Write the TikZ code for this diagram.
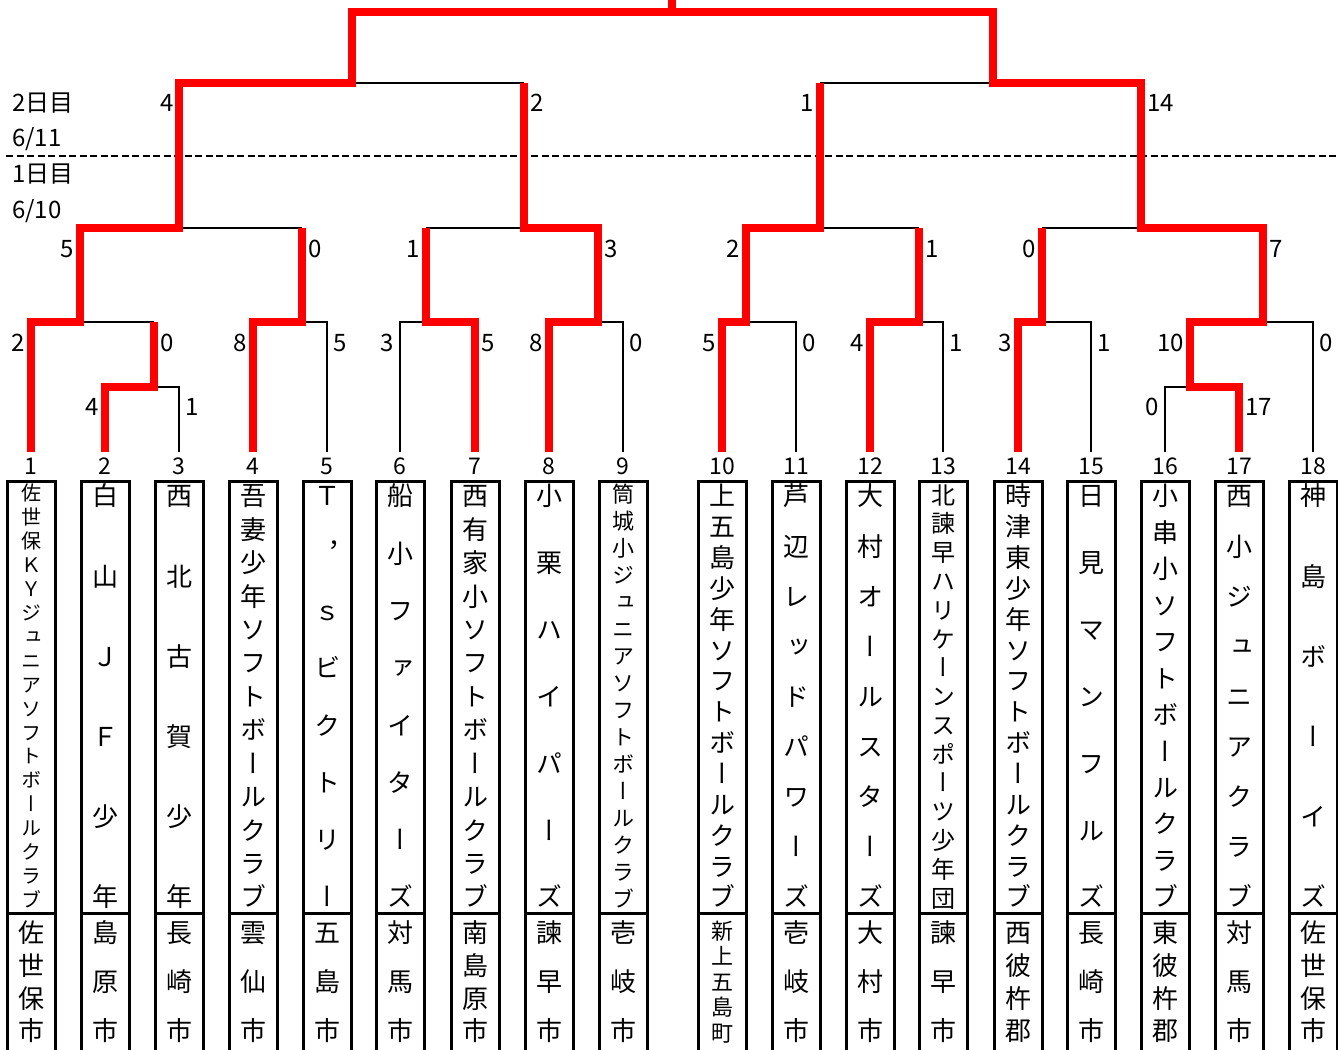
\documentclass[tikz,border=0pt]{standalone}
\usepackage{fontspec}
\setmainfont{Noto Sans CJK JP}
\newfontfamily\vfont[RawFeature=+vert]{Noto Sans CJK JP}
\definecolor{wred}{RGB}{255,0,0}
\tikzset{
  blk/.style={line width=2.8pt, draw=black, line join=miter},
  win/.style={line width=7.5pt, draw=wred, line join=miter},
  boxln/.style={line width=3pt, draw=black, line join=miter},
  sc/.style={font=\fontsize{24}{24}\selectfont, inner sep=0pt},
  scl/.style={sc, anchor=base east},
  scr/.style={sc, anchor=base west},
  numlab/.style={font=\fontsize{23}{23}\selectfont, inner sep=0pt, anchor=base},
  chr/.style={inner sep=0pt, anchor=base},
  daylab/.style={font=\fontsize{24}{24}\selectfont, inner sep=0pt, anchor=base west},
  dayline/.style={line width=2.2pt, dash pattern=on 7pt off 3.5pt}
}
\newcommand\teambox[8]{%
  \draw[boxln] (#2-24,1060) -- (#2-24,481) -- (#2+24,481) -- (#2+24,1060);
  \draw[boxln] (#2-24,913) -- (#2+24,913);
  \node[numlab] (num#1) at (#2,474.5) {#1};
  \pgfmathsetmacro\tbsp{(427-#4)/(#3-1)}
  \foreach \tch [count=\tk from 0] in {#5}{
    \node[chr,font=\fontsize{#4}{#4}\selectfont\vfont] (nm#1-\tk) at (#2,{483+#4/2+\tk*\tbsp+0.38*#4}) {\tch};
  }
  \pgfmathsetmacro\tbcs{(124-#7)/(#6-1)}
  \foreach \tch [count=\tk from 0] in {#8}{
    \node[chr,font=\fontsize{#7}{#7}\selectfont\vfont] (ct#1-\tk) at (#2,{920+#7/2+\tk*\tbcs+0.38*#7}) {\tch};
  }
}
\begin{document}
\begin{tikzpicture}[x=1pt,y=-1pt]
\useasboundingbox (0,0) rectangle (1338,1049);
% team top points
\coordinate (t1) at (31,452);   \coordinate (t2) at (105,452);  \coordinate (t3) at (179,452);
\coordinate (t4) at (253,452);  \coordinate (t5) at (327,452);  \coordinate (t6) at (400,452);
\coordinate (t7) at (475,452);  \coordinate (t8) at (549,452);  \coordinate (t9) at (623,452);
\coordinate (t10) at (722,452); \coordinate (t11) at (796,452); \coordinate (t12) at (870,452);
\coordinate (t13) at (943,452); \coordinate (t14) at (1018,452);\coordinate (t15) at (1091,452);
\coordinate (t16) at (1165,452);\coordinate (t17) at (1239,452);\coordinate (t18) at (1313,452);
\coordinate (top) at (672,0);

% day separator
\coordinate (dl) at (6,156); \coordinate (dr) at (1338,156);
\draw[dayline] (dl) -- (dr);
\node[daylab] (d2) at (12,111) {2日目};
\node[daylab] (d2d) at (12,146) {6/11};
\node[daylab] (d1) at (12,182) {1日目};
\node[daylab] (d1d) at (12,218) {6/10};

% black (losing) lines
\draw[blk] (154,387) -| (t3);
\draw[blk] (80,322) -- (154,322);
\draw[blk] (302,322) -| (t5);
\draw[blk] (179,228) -- (302,228);
\draw[blk] (t6) |- (426,322);
\draw[blk] (598,322) -| (t9);
\draw[blk] (426,228) -- (524,228);
\draw[blk] (352,83) -- (524,83);
\draw[blk] (746,322) -| (t11);
\draw[blk] (919,322) -| (t13);
\draw[blk] (820,228) -- (919,228);
\draw[blk] (1042,322) -| (t15);
\draw[blk] (t16) |- (1190,387);
\draw[blk] (1263,322) -| (t18);
\draw[blk] (1042,228) -- (1141,228);
\draw[blk] (820,83) -- (993,83);

% red (winning) lines
\draw[win] (t1) |- (80,322) |- (179,228) |- (352,83) |- (993,12) |- (1141,83) |- (1263,228) |- (1190,322) |- (1239,387) -- (t17);
\draw[win] (t2) |- (154,387) -- (154,322);
\draw[win] (t4) |- (302,322) -- (302,228);
\draw[win] (t7) |- (426,322) -- (426,228);
\draw[win] (t8) |- (598,322) |- (524,228) -- (524,83);
\draw[win] (t10) |- (746,322) |- (820,228) -- (820,83);
\draw[win] (t12) |- (919,322) -- (919,228);
\draw[win] (t14) |- (1042,322) -- (1042,228);
\draw[win] (672,12) -- (top);

% scores: round 3
\node[scl] (s31) at (174,111) {4};
\node[scr] (s32) at (530,111) {2};
\node[scl] (s33) at (814,111) {1};
\node[scr] (s34) at (1147,111) {14};
% round 2
\node[scl] (s21) at (74,257) {5};
\node[scr] (s22) at (308,257) {0};
\node[scl] (s23) at (420,257) {1};
\node[scr] (s24) at (604,257) {3};
\node[scl] (s25) at (740,257) {2};
\node[scr] (s26) at (925,257) {1};
\node[scl] (s27) at (1036,257) {0};
\node[scr] (s28) at (1269,257) {7};
% round 1
\node[scl] (s11) at (25,351) {2};
\node[scr] (s12) at (160,351) {0};
\node[scl] (s13) at (247,351) {8};
\node[scr] (s14) at (333,351) {5};
\node[scl] (s15) at (394,351) {3};
\node[scr] (s16) at (481,351) {5};
\node[scl] (s17) at (543,351) {8};
\node[scr] (s18) at (629,351) {0};
\node[scl] (s19) at (716,351) {5};
\node[scr] (s110) at (802,351) {0};
\node[scl] (s111) at (864,351) {4};
\node[scr] (s112) at (949,351) {1};
\node[scl] (s113) at (1012,351) {3};
\node[scr] (s114) at (1097,351) {1};
\node[scl] (s115) at (1184,351) {10};
\node[scr] (s116) at (1319,351) {0};
% round 0
\node[scl] (s01) at (99,415) {4};
\node[scr] (s02) at (185,415) {1};
\node[scl] (s03) at (1159,415) {0};
\node[scr] (s04) at (1245,415) {17};

% team boxes
\teambox{1}{31}{18}{20}{佐,世,保,Ｋ,Ｙ,ジ,ュ,ニ,ア,ソ,フ,ト,ボ,ー,ル,ク,ラ,ブ}{4}{26}{佐,世,保,市}
\teambox{2}{105}{6}{26}{白,山,Ｊ,Ｆ,少,年}{3}{26}{島,原,市}
\teambox{3}{179}{6}{26}{西,北,古,賀,少,年}{3}{26}{長,崎,市}
\teambox{4}{253}{13}{26}{吾,妻,少,年,ソ,フ,ト,ボ,ー,ル,ク,ラ,ブ}{3}{26}{雲,仙,市}
\teambox{5}{327}{8}{26}{Ｔ,，,ｓ,ビ,ク,ト,リ,ー}{3}{26}{五,島,市}
\teambox{6}{400}{8}{26}{船,小,フ,ァ,イ,タ,ー,ズ}{3}{26}{対,馬,市}
\teambox{7}{475}{13}{26}{西,有,家,小,ソ,フ,ト,ボ,ー,ル,ク,ラ,ブ}{4}{26}{南,島,原,市}
\teambox{8}{549}{7}{26}{小,栗,ハ,イ,パ,ー,ズ}{3}{26}{諫,早,市}
\teambox{9}{623}{16}{22}{筒,城,小,ジ,ュ,ニ,ア,ソ,フ,ト,ボ,ー,ル,ク,ラ,ブ}{3}{26}{壱,岐,市}
\teambox{10}{722}{14}{26}{上,五,島,少,年,ソ,フ,ト,ボ,ー,ル,ク,ラ,ブ}{5}{22}{新,上,五,島,町}
\teambox{11}{796}{9}{26}{芦,辺,レ,ッ,ド,パ,ワ,ー,ズ}{3}{26}{壱,岐,市}
\teambox{12}{870}{9}{26}{大,村,オ,ー,ル,ス,タ,ー,ズ}{3}{26}{大,村,市}
\teambox{13}{943}{15}{24}{北,諫,早,ハ,リ,ケ,ー,ン,ス,ポ,ー,ツ,少,年,団}{3}{26}{諫,早,市}
\teambox{14}{1018}{14}{26}{時,津,東,少,年,ソ,フ,ト,ボ,ー,ル,ク,ラ,ブ}{4}{26}{西,彼,杵,郡}
\teambox{15}{1091}{7}{26}{日,見,マ,ン,フ,ル,ズ}{3}{26}{長,崎,市}
\teambox{16}{1165}{12}{26}{小,串,小,ソ,フ,ト,ボ,ー,ル,ク,ラ,ブ}{4}{26}{東,彼,杵,郡}
\teambox{17}{1239}{9}{26}{西,小,ジ,ュ,ニ,ア,ク,ラ,ブ}{3}{26}{対,馬,市}
\teambox{18}{1313}{6}{26}{神,島,ボ,ー,イ,ズ}{4}{26}{佐,世,保,市}
\end{tikzpicture}
\end{document}
